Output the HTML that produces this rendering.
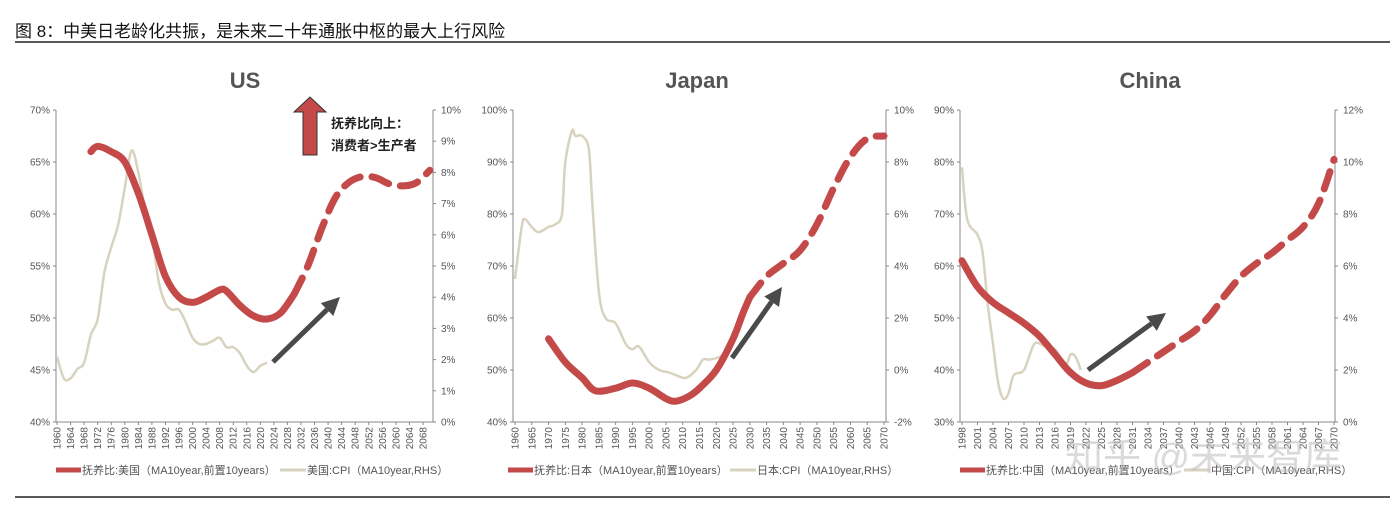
<!DOCTYPE html>
<html><head><meta charset="utf-8">
<style>
body{margin:0;background:#fff;width:1400px;height:508px;overflow:hidden;font-family:"Liberation Sans","Noto Sans CJK SC",sans-serif}
svg{position:absolute;left:0;top:0}
</style></head>
<body>
<svg id="c" width="1400" height="508" xmlns="http://www.w3.org/2000/svg">
<text x="15" y="37" font-size="17" fill="#111" font-family="Liberation Sans,Noto Sans CJK SC,sans-serif">图  8：中美日老龄化共振，是未来二十年通胀中枢的最大上行风险</text>
<line x1="15" y1="42" x2="1390" y2="42" stroke="#222" stroke-width="1.5"/>
<line x1="15" y1="497" x2="1390" y2="497" stroke="#222" stroke-width="1.5"/>
<g id="root"></g>
</svg>
<script>
// ---- US data ----
const usDepYears=[1970,1972,1976,1980,1984,1988,1992,1996,2000,2004,2008,2010,2014,2018,2022,2026,2030,2034,2038,2042,2046,2050,2054,2058,2062,2066,2070];
const usDepVals=[66,66.5,66,65,62,58,54,52,51.5,52,52.7,52.6,51.2,50.2,49.9,50.5,52.3,55,58.5,61.5,63,63.6,63.5,62.9,62.7,63,64.2];
const usCpiYears=[1960,1962,1964,1966,1968,1970,1972,1974,1976,1978,1980,1982,1984,1986,1988,1990,1992,1994,1996,1998,2000,2002,2004,2006,2008,2010,2012,2014,2016,2018,2020,2022];
const usCpiVals=[2.1,1.4,1.4,1.7,1.9,2.8,3.3,4.8,5.6,6.3,7.5,8.7,8.0,6.8,6.0,4.5,3.8,3.6,3.6,3.2,2.7,2.5,2.5,2.6,2.7,2.4,2.4,2.2,1.8,1.6,1.8,1.9];
const usLeftTicks=[40,45,50,55,60,65,70];
const usRightTicks=[0,1,2,3,4,5,6,7,8,9,10];
// ---- Japan data ----
const jpDepYears=[1970,1975,1980,1984,1990,1995,2000,2005,2008,2012,2015,2020,2025,2028,2030,2035,2040,2045,2050,2055,2060,2065,2070];
const jpDepVals=[56,51.5,48.5,46,46.5,47.5,46.5,44.5,44,45,46.5,50,56,61,64,68,70.5,73,78,85,91,94.5,95];
const jpCpiYears=[1960,1962,1963,1965,1967,1970,1972,1974,1975,1977,1978,1980,1982,1983,1985,1987,1990,1993,1995,1997,2000,2003,2006,2008,2011,2014,2016,2018,2021,2022];
const jpCpiVals=[3.5,5.5,5.8,5.5,5.3,5.5,5.6,6.0,8.0,9.2,9.0,9.0,8.5,6.5,3.0,2.0,1.8,1.0,0.8,0.9,0.3,0,-0.1,-0.2,-0.3,0,0.4,0.4,0.5,0.6];
const jpLeftTicks=[40,50,60,70,80,90,100];
const jpRightTicks=[-2,0,2,4,6,8,10];
// ---- China data ----
const cnDepYears=[1998,2001,2004,2007,2010,2013,2016,2019,2022,2025,2028,2031,2034,2037,2040,2043,2046,2049,2052,2055,2058,2061,2064,2067,2070];
const cnDepVals=[61,56,53,51,49,46.5,43,39.5,37.5,37,38,39.5,41.5,43.5,45.5,47.5,50.5,54.5,58,60.5,62.5,65,67.5,72,80.5];
const cnCpiYears=[1998,1999,2001,2002,2003,2004,2005,2006,2007,2008,2010,2012,2014,2016,2018,2019,2020,2021];
const cnCpiVals=[9.8,7.8,7.2,6.5,4.5,3.0,1.5,0.9,1.1,1.8,2.0,3.0,2.9,2.8,2.2,2.6,2.5,2.0];
const cnLeftTicks=[30,40,50,60,70,80,90];
const cnRightTicks=[0,2,4,6,8,10,12];

const NS='http://www.w3.org/2000/svg';
const root=document.getElementById('root');
const RED='#c44a4a', CPI='#d8d3bf';
function el(tag,attrs,parent){const e=document.createElementNS(NS,tag);for(const k in attrs)e.setAttribute(k,attrs[k]);(parent||root).appendChild(e);return e;}
function smoothPath(pts){let d='M'+pts[0][0]+','+pts[0][1];for(let i=0;i<pts.length-1;i++){const p0=pts[Math.max(0,i-1)],p1=pts[i],p2=pts[i+1],p3=pts[Math.min(pts.length-1,i+2)];const c1=[p1[0]+(p2[0]-p0[0])/6,p1[1]+(p2[1]-p0[1])/6],c2=[p2[0]-(p3[0]-p1[0])/6,p2[1]-(p3[1]-p1[1])/6];d+=' C'+c1[0].toFixed(1)+','+c1[1].toFixed(1)+' '+c2[0].toFixed(1)+','+c2[1].toFixed(1)+' '+p2[0].toFixed(1)+','+p2[1].toFixed(1);}return d;}

function panel(cfg){
  const g=el('g',{});
  
  
  const x=y=>cfg.x0+(y-cfg.y0)/(cfg.y1-cfg.y0)*(cfg.x1-cfg.x0);
  const yl=v=>cfg.top+(cfg.lmax-v)/(cfg.lmax-cfg.lmin)*(cfg.bot-cfg.top);
  const yr=v=>cfg.top+(cfg.rmax-v)/(cfg.rmax-cfg.rmin)*(cfg.bot-cfg.top);
  const t=el('text',{x:cfg.tx,y:88,'font-size':22,'font-weight':'bold',fill:'#555','text-anchor':'middle'},g);t.textContent=cfg.title;
  
  
  el('line',{x1:cfg.ax,y1:cfg.top,x2:cfg.ax,y2:cfg.bot,stroke:'#888','stroke-width':1},g);
  el('line',{x1:cfg.ar,y1:cfg.top,x2:cfg.ar,y2:cfg.bot,stroke:'#888','stroke-width':1},g);
  el('line',{x1:cfg.ax,y1:cfg.bot,x2:cfg.ar,y2:cfg.bot,stroke:'#888','stroke-width':1},g);
  cfg.lt.forEach(v=>{const yy=yl(v);el('line',{x1:cfg.ax-3,y1:yy,x2:cfg.ax,y2:yy,stroke:'#888'},g);
    const tx=el('text',{x:cfg.ax-6,y:yy+3.5,'font-size':10,fill:'#555','text-anchor':'end'},g);tx.textContent=v+'%';
    
    });
  cfg.rt.forEach(v=>{const yy=yr(v);el('line',{x1:cfg.ar,y1:yy,x2:cfg.ar+3,y2:yy,stroke:'#888'},g);
    const tx=el('text',{x:cfg.ar+8,y:yy+3.5,'font-size':10,fill:'#555'},g);tx.textContent=v+'%';
    
    });
  for(let yv=cfg.y0;yv<=cfg.y1;yv+=cfg.step){const xx=x(yv);
    el('line',{x1:xx,y1:cfg.bot,x2:xx,y2:cfg.bot+3,stroke:'#888'},g);
    const tx=el('text',{x:0,y:0,'font-size':10,fill:'#555','text-anchor':'end',transform:`translate(${xx+3.5},${cfg.bot+5}) rotate(-90)`},g);tx.textContent=yv;
    
    }
  const cp=cfg.cy.map((yy,i)=>[x(yy),yr(cfg.cv[i])]);
  const c=el('path',{d:smoothPath(cp),fill:'none',stroke:CPI,'stroke-width':2.5,'stroke-linejoin':'round'},g);
  
  
  const sp=[],dp=[];
  cfg.dy.forEach((yy,i)=>{const p=[x(yy),yl(cfg.dv[i])];if(yy<=cfg.split)sp.push(p);if(yy>=cfg.split)dp.push(p);});
  const s=el('path',{d:smoothPath(sp),fill:'none',stroke:RED,'stroke-width':7,'stroke-linecap':'round'},g);
  
  
  const dd=el('path',{d:smoothPath(dp),fill:'none',stroke:RED,'stroke-width':7,'stroke-dasharray':'18 12','stroke-linecap':'round'},g);
  
  
  const a=cfg.arrow;const ang=Math.atan2(a[3]-a[1],a[2]-a[0]);
  const L=18,W=9;const bx=a[2]-L*Math.cos(ang),by=a[3]-L*Math.sin(ang);
  el('line',{x1:a[0],y1:a[1],x2:bx,y2:by,stroke:'#4a4a4a','stroke-width':5},g);
  const ar=el('polygon',{points:`${a[2]},${a[3]} ${bx+W*Math.sin(ang)},${by-W*Math.cos(ang)} ${bx-W*Math.sin(ang)},${by+W*Math.cos(ang)}`,fill:'#4a4a4a'},g);
  
  
  el('line',{x1:cfg.lg1,y1:470,x2:cfg.lg1+25,y2:470,stroke:RED,'stroke-width':5},g);
  const l1=el('text',{x:cfg.lg1+26,y:474,'font-size':11,fill:'#555'},g);l1.textContent=cfg.leg1;
  
  
  el('line',{x1:cfg.lg2,y1:470,x2:cfg.lg2+26,y2:470,stroke:CPI,'stroke-width':3},g);
  const l2=el('text',{x:cfg.lg2+27,y:474,'font-size':11,fill:'#555'},g);l2.textContent=cfg.leg2;
  
  
}

panel({id:'us',title:'US',tx:245,x0:57,y0:1960,x1:423,y1:2068,step:4,ax:56,ar:433,top:110,bot:422,lmin:40,lmax:70,rmin:0,rmax:10,lt:usLeftTicks,rt:usRightTicks,cy:usCpiYears,cv:usCpiVals,dy:usDepYears,dv:usDepVals,split:2030,arrow:[273,362,340,297],lg1:56,lg2:280,leg1:'抚养比:美国（MA10year,前置10years）',leg2:'美国:CPI（MA10year,RHS）'});
panel({id:'japan',title:'Japan',tx:697,x0:515,y0:1960,x1:884,y1:2070,step:5,ax:513,ar:886,top:110,bot:422,lmin:40,lmax:100,rmin:-2,rmax:10,lt:jpLeftTicks,rt:jpRightTicks,cy:jpCpiYears,cv:jpCpiVals,dy:jpDepYears,dv:jpDepVals,split:2030,arrow:[732,358,782,287],lg1:508,lg2:730,leg1:'抚养比:日本（MA10year,前置10years）',leg2:'日本:CPI（MA10year,RHS）'});
panel({id:'china',title:'China',tx:1150,x0:962,y0:1998,x1:1334,y1:2070,step:3,ax:960,ar:1335,top:110,bot:422,lmin:30,lmax:90,rmin:0,rmax:12,lt:cnLeftTicks,rt:cnRightTicks,cy:cnCpiYears,cv:cnCpiVals,dy:cnDepYears,dv:cnDepVals,split:2031,arrow:[1088,370,1166,313],lg1:960,lg2:1184,leg1:'抚养比:中国（MA10year,前置10years）',leg2:'中国:CPI（MA10year,RHS）'});

const up=el('polygon',{points:'303,155 317,155 317,112 326,112 310,97 294,112 303,112',fill:'#c44a4a',stroke:'#333','stroke-width':1});


const a1=el('text',{x:331,y:128,'font-size':13,'font-weight':'bold',fill:'#222'});a1.textContent='抚养比向上：';


const a2=el('text',{x:331,y:150,'font-size':13,'font-weight':'bold',fill:'#222'});a2.textContent='消费者>生产者';


const wm=el('text',{x:1065,y:470,'font-size':38,fill:'#bbb','fill-opacity':0.55});wm.textContent='知乎 @未来智库';


</script>
</body></html>
